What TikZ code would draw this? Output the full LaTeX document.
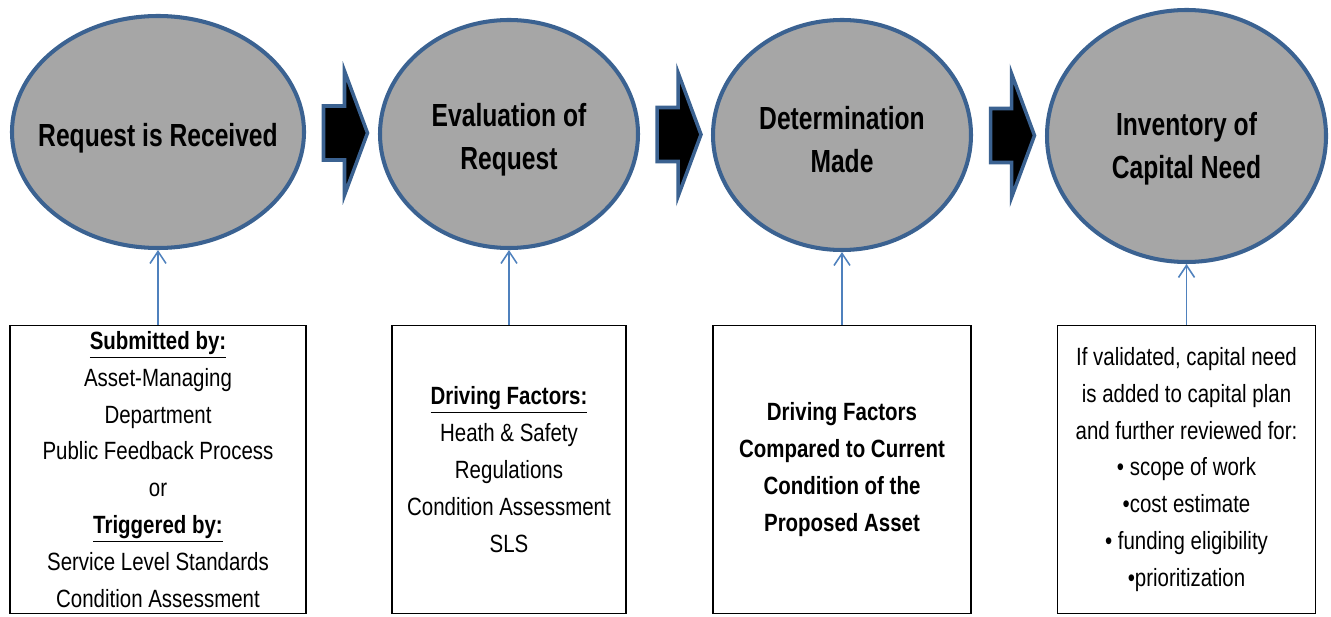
\documentclass[tikz,border=0pt]{standalone}
\usepackage{fontspec}
\setmainfont{Liberation Sans}[FakeStretch=0.82]
\newfontfamily\stagefont{Liberation Sans}[FakeStretch=0.77]
\usetikzlibrary{shapes.geometric}
\usetikzlibrary{arrows.meta}
\usetikzlibrary{calc}

\definecolor{stageblue}{HTML}{3B6291}
\definecolor{linkblue}{HTML}{4F81BD}
\definecolor{stagegray}{HTML}{A6A6A6}

\begin{document}
\begin{tikzpicture}[
	stage/.style={ellipse,draw=stageblue,line width=2.3pt,fill=stagegray,inner sep=0pt},
	stagetext/.style={align=center,inner sep=0pt,font=\stagefont\fontsize{18.2}{24.5}\selectfont\bfseries},
	infobox/.style={rectangle,draw=black,line width=0.8pt,minimum height=5.76cm,inner sep=0pt,align=center,font=\fontsize{14.2}{21}\selectfont},
	link/.style={draw=linkblue,line width=0.9pt},
	blockarrow/.style={draw=stageblue,line width=2pt,fill=black,line join=miter},
	>={Straight Barb[length=2.4mm,width=3.2mm]}]
				
				\useasboundingbox (0,0) rectangle (26.62,12.32);
				
				% the four stages
				\node[stage,minimum width=5.84cm,minimum height=4.64cm] (E1) at (3.16,9.68) {};
				\node[stage,minimum width=5.16cm,minimum height=4.56cm] (E2) at (10.18,9.64) {};
				\node[stage,minimum width=5.16cm,minimum height=4.60cm] (E3) at (16.84,9.62) {};
				\node[stage,minimum width=5.58cm,minimum height=5.04cm] (E4) at (23.73,9.60) {};
				
				\node[stagetext] (T1) at ($(E1)+(0,-0.12)$) {Request is Received};
				\node[stagetext] (T2) at ($(E2)+(0,-0.12)$) {Evaluation of\\Request};
				\node[stagetext] (T3) at ($(E3)+(0,-0.10)$) {Determination\\Made};
				\node[stagetext] (T4) at ($(E4)+(0,-0.25)$) {Inventory of\\Capital Need};
				
				% block arrows between the stages
				\foreach \a/\b in {E1/E2,E2/E3,E3/E4}
					\draw[blockarrow] ($(\a.east)!0.5!(\b.west)$) ++(-0.37,0.54) -- ++(0.42,0) -- ++(0,0.7)
						-- ++(0.46,-1.24) -- ++(-0.46,-1.24) -- ++(0,0.7) -- ++(-0.42,0) -- cycle;
				
				% boxes underneath
				\node[infobox,minimum width=5.92cm] (B1) at (3.16,2.93) {\underline{\textbf{Submitted by:}}\\Asset-Managing\\Department\\Public Feedback Process\\or\\\underline{\textbf{Triggered by:}}\\Service Level Standards\\Condition Assessment};
				\node[infobox,minimum width=4.68cm] (B2) at (10.18,2.93) {\underline{\textbf{Driving Factors:}}\\Heath \& Safety\\Regulations\\Condition Assessment\\SLS};
				\node[infobox,minimum width=5.16cm,font=\fontsize{14.2}{21}\selectfont\bfseries] (B3) at (16.84,2.93) {Driving Factors\\Compared to Current\\Condition of the\\Proposed Asset};
				\node[infobox,minimum width=5.16cm] (B4) at (23.73,2.93) {If validated, capital need\\is added to capital plan\\and further reviewed for:\\• scope of work\\•cost estimate\\• funding eligibility\\•prioritization};
				
				\draw[link,->] (B1) -- (E1);
				\draw[link,->] (B2) -- (E2);
				\draw[link,->] (B3) -- (E3);
				\draw[link,->] (B4) -- (E4);
				
			\end{tikzpicture}
\end{document}
